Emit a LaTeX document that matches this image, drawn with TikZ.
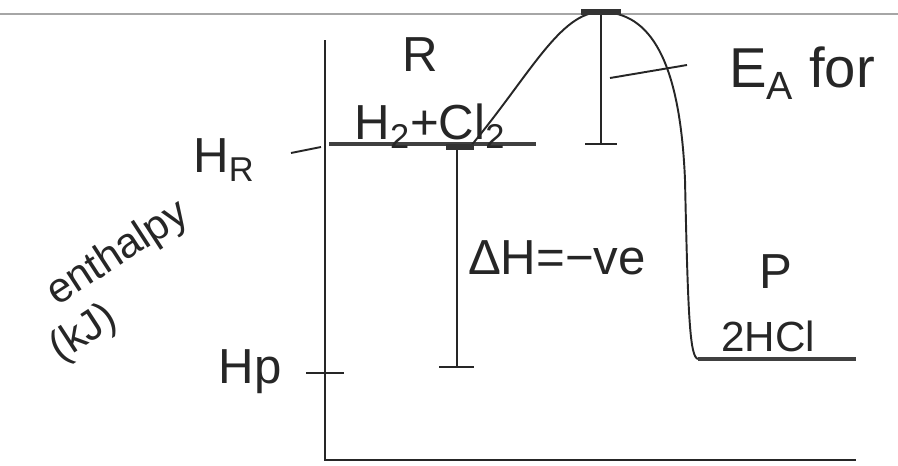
\documentclass[tikz,border=0pt]{standalone}
\usepackage{fontspec}
\setmainfont{Liberation Sans}
\usetikzlibrary{positioning}

\begin{document}
\begin{tikzpicture}[
    x=0.2mm, y=-0.2mm,
    ink/.style={line width=1.1pt, black!85},
    level/.style={line width=1.8pt, black!75},
    bar/.style={line width=3pt, black!80},
    hand/.style={font=\fontsize{28}{32}\selectfont, inner sep=0pt, text=black!85},
    small hand/.style={hand, font=\fontsize{24}{28}\selectfont}
]

\useasboundingbox (0,0) rectangle (898,465);

% ruled line of the page
\coordinate (ruleL) at (0,14);
\coordinate (ruleR) at (898,14);
\draw[black!35, line width=1.2pt] (ruleL) -- (ruleR);

% axes
\coordinate (ytop) at (325,40);
\coordinate (orig) at (325,460);
\coordinate (xend) at (856,460);
\draw[ink] (ytop) -- (orig) -- (xend);

% enthalpy levels
\coordinate (hrstart) at (329,144);
\coordinate (hrend) at (536,144);
\draw[level] (hrstart) -- (hrend);

\coordinate (hpstart) at (698,359);
\coordinate (hpend) at (856,359);
\draw[level] (hpstart) -- (hpend);

% ticks on the enthalpy axis
\coordinate (hrtickA) at (291,153);
\coordinate (hrtickB) at (321,147);
\draw[ink] (hrtickA) -- (hrtickB);

\coordinate (hptickA) at (306,373);
\coordinate (hptickB) at (344,373);
\draw[ink] (hptickA) -- (hptickB);

% reaction path
\coordinate (rstart) at (470,147);
\coordinate (peak) at (601,12);
\draw[ink] (rstart) .. controls (530,75) and (560,12) .. (peak)
    .. controls (650,12) and (680,60) .. (685,180)
    .. controls (688,320) and (690,357) .. (hpstart);

% activation energy
\coordinate (eabot) at (601,144);
\draw[ink] (peak) -- (eabot);
\draw[bar] ([xshift=-4mm]peak) -- ([xshift=4mm]peak);
\draw[ink] ([xshift=-3.2mm]eabot) -- ([xshift=3.2mm]eabot);

\coordinate (eaptr) at (610,78);
\coordinate (eaptrend) at (687,65);
\draw[ink] (eaptr) -- (eaptrend);

% enthalpy change
\coordinate (dhtop) at (457,147);
\coordinate (dhbot) at (457,367);
\draw[ink] (dhtop) -- (dhbot);
\draw[bar] ([xshift=-2.2mm]dhtop) -- ([xshift=3.4mm]dhtop);
\draw[ink] ([xshift=-3.6mm]dhbot) -- ([xshift=3.4mm]dhbot);

% labels
\node[hand] (hr) at (224,160) {H\textsubscript{R}};
\node[hand] (hp) at (250,372) {Hp};
\node[hand] (rlabel) at (420,55) {R};
\node[hand] (reactants) at (430,126) {H\textsubscript{2}+Cl\textsubscript{2}};
\node[hand] (dh) at (557,258) {ΔH=−ve};
\node[hand, font=\fontsize{32}{36}\selectfont] (ea) at (802,73) {E\textsubscript{A} for};
\node[hand] (plabel) at (776,272) {P};
\node[small hand] (products) at (768,336) {2HCl};
\node[small hand, rotate=33] (yname) at (118,254) {enthalpy};
\node[small hand, rotate=33] (yunit) at (84,334) {(kJ)};

\end{tikzpicture}
\end{document}
